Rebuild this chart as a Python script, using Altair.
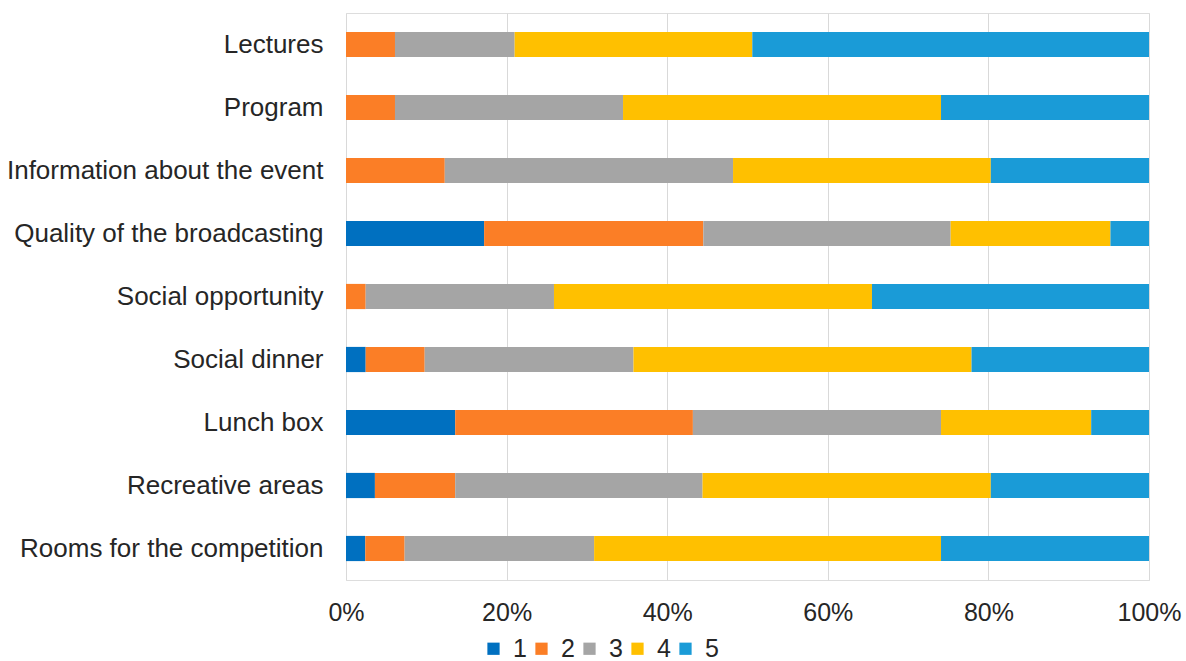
import altair as alt
import pandas as pd

categories = [
    "Lectures",
    "Program",
    "Information about the event",
    "Quality of the broadcasting",
    "Social opportunity",
    "Social dinner",
    "Lunch box",
    "Recreative areas",
    "Rooms for the competition",
]
scores = ["1", "2", "3", "4", "5"]

# percentage of answers per score (1..5) for each category
s1 = [0.0, 0.0, 0.0, 17.2, 0.0, 2.45, 13.6, 3.6, 2.4]
s2 = [6.1, 6.1, 12.3, 27.3, 2.45, 7.35, 29.6, 10.0, 4.9]
s3 = [14.9, 28.4, 35.9, 30.8, 23.45, 26.0, 30.9, 30.8, 23.6]
s4 = [29.6, 39.6, 32.1, 19.9, 39.6, 42.1, 18.7, 35.9, 43.2]
s5 = [49.4, 25.9, 19.7, 4.8, 34.5, 22.1, 7.2, 19.7, 25.9]

colors = ["#0070C0", "#FB7E26", "#A5A5A5", "#FFC000", "#1A9BD7"]

rows = []
for series, score in zip([s1, s2, s3, s4, s5], scores):
    for cat, v in zip(categories, series):
        rows.append({"category": cat, "score": score, "order": int(score), "value": v})
df = pd.DataFrame(rows)

FONT = "Liberation Sans"
TXT = "#262626"

chart = (
    alt.Chart(df)
    .mark_bar()
    .encode(
        y=alt.Y(
            "category:N",
            sort=categories,
            title=None,
            scale=alt.Scale(paddingInner=0.6, paddingOuter=0.3),
            axis=alt.Axis(
                domain=False,
                ticks=False,
                tickSize=0,
                labelPadding=23,
                labelFontSize=26,
                labelFont=FONT,
                labelColor=TXT,
                grid=False,
                labelLimit=400,
            ),
        ),
        x=alt.X(
            "value:Q",
            stack="normalize",
            title=None,
            scale=alt.Scale(domain=[0, 1], nice=False),
            axis=alt.Axis(
                format="%",
                values=[0, 0.2, 0.4, 0.6, 0.8, 1.0],
                domain=False,
                ticks=False,
                tickSize=0,
                labelFlush=False,
                labelPadding=20,
                labelFontSize=25,
                labelFont=FONT,
                labelColor=TXT,
                grid=True,
                gridColor="#D9D9D9",
                gridWidth=1,
            ),
        ),
        color=alt.Color(
            "score:N",
            scale=alt.Scale(domain=scores, range=colors),
            legend=alt.Legend(
                title=None,
                orient="none",
                direction="horizontal",
                legendX=135,
                legendY=623,
                symbolType="square",
                symbolSize=150,
                symbolStrokeWidth=0,
                labelFontSize=25,
                labelFont=FONT,
                labelColor=TXT,
                labelOffset=7,
                columnPadding=2,
            ),
        ),
        order=alt.Order("order:Q"),
    )
    .properties(
        width=803,
        height=567,
        autosize=alt.AutoSizeParams(type="none"),
        padding={"left": 346, "top": 13, "right": 37, "bottom": 81},
    )
    .configure_view(stroke=None)
    .configure(background="white")
)

chart.save("out.html", embed_options={"renderer": "svg", "actions": False})
